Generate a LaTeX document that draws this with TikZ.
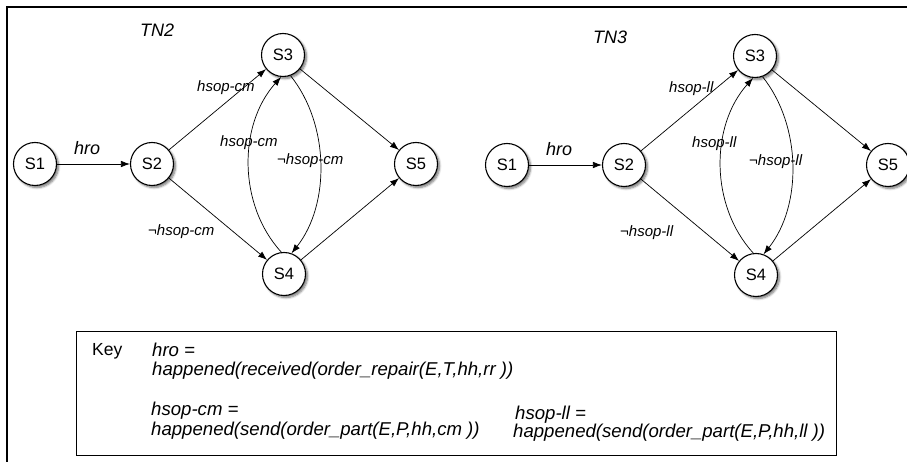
\documentclass[tikz,border=0pt]{standalone}
\usepackage{fontspec}
\setmainfont{Liberation Sans}
\usetikzlibrary{arrows.meta,shadows.blur}

\tikzset{
  stnode/.style={circle, draw=black, line width=1.1pt, fill=white,
    minimum size=43pt, inner sep=0pt, font=\fontsize{16.5}{18}\selectfont,
    blur shadow={shadow xshift=2pt, shadow yshift=-2pt,
      shadow blur steps=6, shadow blur radius=2.2pt, shadow opacity=55}},
  trans/.style={line width=0.7pt, -{Latex[length=9pt,width=6.5pt]}},
  lbl/.style={anchor=west, inner sep=0pt, font=\fontsize{15}{17}\selectfont\itshape},
  biglbl/.style={anchor=west, inner sep=0pt, font=\fontsize{18}{20}\selectfont\itshape},
  keytxt/.style={anchor=base west, inner sep=0pt, font=\fontsize{18.6}{21}\selectfont\itshape},
}

% one transition network; #1 = node name prefix, #2 = part suffix
\newcommand\tnet[2]{%
  \node[stnode] (#1s1) at (35,164)  {S1};
  \node[stnode] (#1s2) at (152,164) {S2};
  \node[stnode] (#1s3) at (283,55)  {S3};
  \node[stnode] (#1s4) at (284,274) {S4};
  \node[stnode] (#1s5) at (416,164) {S5};
  \draw[trans] (#1s1) -- (#1s2);
  \draw[trans] (#1s2) -- (#1s3);
  \draw[trans] (#1s2) -- (#1s4);
  \draw[trans] (#1s3) -- (#1s5);
  \draw[trans] (#1s4) -- (#1s5);
  \draw[trans] (#1s4.97) .. controls (238,205) and (238,125) .. (#1s3.265);
  \draw[trans] (#1s3.290) .. controls (330,125) and (330,205) .. (#1s4.70);
  \node[biglbl] (#1hro) at (74,148) {hro};
  \node[lbl] (#1up) at (197,88) {hsop-#2};
  \node[lbl] (#1cl) at (220,143) {hsop-#2};
  \node[lbl] (#1cr) at (277,161) {¬hsop-#2};
  \node[lbl] (#1dn) at (148,232) {¬hsop-#2};
}

\begin{document}
\begin{tikzpicture}[x=1pt, y=-1pt]
  \useasboundingbox (0,0) rectangle (907,462);
  % outer frame (open to the right and bottom)
  \coordinate (fb) at (7,462);
  \coordinate (fc) at (7,7);
  \coordinate (fr) at (907,7);
  \draw[line width=1.5pt] (fb) -- (fc) -- (fr);

  \node[biglbl] (tn2) at (140,30) {TN2};
  \begin{scope}
    \tnet{a}{cm}
  \end{scope}

  \node[biglbl] (tn3) at (593,37) {TN3};
  \begin{scope}[xshift=472pt, yshift=-1pt]
    \tnet{b}{ll}
  \end{scope}

  % key box
  \node[draw, line width=0.8pt, minimum width=760pt, minimum height=124pt,
        anchor=north west, inner sep=0pt] (key) at (76,331) {};
  \node[anchor=base west, inner sep=0pt, font=\fontsize{17.5}{20}\selectfont]
        (keyword) at (92,355) {Key};
  \node[keytxt] (k1) at (152,356) {hro =};
  \node[keytxt] (k2) at (152,375) {happened(received(order\_repair(E,T,hh,rr ))};
  \node[keytxt] (k3) at (151,415) {hsop-cm =};
  \node[keytxt] (k4) at (151,435) {happened(send(order\_part(E,P,hh,cm ))};
  \node[keytxt] (k5) at (515,419) {hsop-ll =};
  \node[keytxt] (k6) at (513,437) {happened(send(order\_part(E,P,hh,ll ))};
\end{tikzpicture}
\end{document}
